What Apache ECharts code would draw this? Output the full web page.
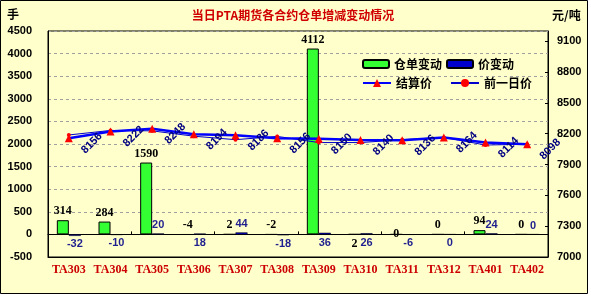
<!DOCTYPE html>
<html>
<head>
<meta charset="utf-8">
<script src="https://cdn.jsdelivr.net/npm/echarts@6/dist/echarts.min.js"></script>
<style>
html,body{margin:0;padding:0;background:#fff;}
#c{width:591px;height:297px;}
</style>
</head>
<body>
<div id="c"></div>
<script>
// ---- data ----
const categories = ['TA303','TA304','TA305','TA306','TA307','TA308','TA309','TA310','TA311','TA312','TA401','TA402'];
const warrantChange = [314, 284, 1590, -4, 2, -2, 4112, 2, 0, 0, 94, 0];
const priceChange = [-32, -10, 20, 18, 44, -18, 36, 26, -6, 0, 24, 0];
const settlePrice = [8156, 8222, 8248, 8194, 8186, 8156, 8150, 8140, 8136, 8164, 8114, 8098];
const prevPrice = [8188, 8232, 8228, 8176, 8142, 8174, 8114, 8114, 8142, 8164, 8090, 8098];
const leftTicks = {min: -500, max: 4500, interval: 500};
const rightTicks = {min: 7000, max: 9200, interval: 300};

// ---- label placement (layout only) ----
const warrantLabelPos = ['top','top','top','top','top','top','top','bottom','inside','top','top','top'];
const priceLabelPos = ['bottom','bottom','top','bottom','top','bottom','bottom','bottom','bottom','bottom','top','top'];

const chart = echarts.init(document.getElementById('c'), null, {renderer: 'canvas'});
const plain = v => String(v);

const option = {
  backgroundColor: '#ffffff',
  animation: false,
  graphic: [
    {type: 'rect', z: -100, silent: true, shape: {x: 0.5, y: 0.5, width: 587, height: 293},
     style: {fill: '#FFFFCC', stroke: '#000', lineWidth: 1}},
    {type: 'text', x: 293, y: 15, silent: true,
     style: {text: '当日PTA期货各合约仓单增减变动情况', fill: '#D00000', font: 'bold 12px "Noto Sans CJK SC"', textAlign: 'center', textVerticalAlign: 'middle'}},
    {type: 'text', x: 7, y: 14, silent: true,
     style: {text: '手', fill: '#000', font: 'bold 12px "Noto Sans CJK SC"', textAlign: 'left', textVerticalAlign: 'middle'}},
    {type: 'text', x: 552, y: 15, silent: true,
     style: {text: '元/吨', fill: '#000', font: 'bold 12px "Noto Sans CJK SC"', textAlign: 'left', textVerticalAlign: 'middle'}}
  ],
  grid: {left: 48, right: 43, top: 31, bottom: 40, show: true, borderColor: '#000', borderWidth: 1, backgroundColor: 'transparent'},
  legend: [
    {data: ['仓单变动','价变动'], left: 362, top: 58, itemWidth: 26, itemHeight: 8, itemGap: 4, padding: 0,
     textStyle: {color: '#000', fontWeight: 'bold', fontSize: 12, fontFamily: 'Noto Sans CJK SC'}},
    {data: ['结算价','前一日价'], left: 362, top: 77, itemWidth: 28, itemHeight: 10, itemGap: 18, padding: 0,
     textStyle: {color: '#000', fontWeight: 'bold', fontSize: 12, fontFamily: 'Noto Sans CJK SC'}}
  ],
  xAxis: [
    {type: 'category', data: categories, position: 'bottom',
     axisLine: {onZero: false, lineStyle: {color: '#000', width: 1}},
     axisTick: {show: false},
     axisLabel: {color: '#CC0000', fontWeight: 'bold', fontSize: 12, fontFamily: 'Liberation Serif', margin: 7, interval: 0},
     splitLine: {show: false}},
    {type: 'category', data: categories, position: 'top',
     axisLine: {onZero: true, onZeroAxisIndex: 0, lineStyle: {color: '#000', width: 1}},
     axisTick: {show: true, inside: false, length: 3, lineStyle: {color: '#000'}},
     axisLabel: {show: false},
     splitLine: {show: false}}
  ],
  yAxis: [
    {type: 'value', position: 'left', min: leftTicks.min, max: leftTicks.max, interval: leftTicks.interval,
     axisLine: {show: true, lineStyle: {color: '#000'}},
     axisTick: {show: false},
     axisLabel: {color: '#000', fontWeight: 'bold', fontSize: 11, fontFamily: 'Liberation Sans', margin: 16, formatter: plain},
     splitLine: {show: true, lineStyle: {color: '#A0A0A0', type: [3, 3], width: 1}}},
    {type: 'value', position: 'right', min: rightTicks.min, max: rightTicks.max, interval: rightTicks.interval,
     axisLine: {show: true, lineStyle: {color: '#000'}},
     axisTick: {show: true, inside: true, length: 3, lineStyle: {color: '#000'}},
     axisLabel: {color: '#000', fontWeight: 'bold', fontSize: 11, fontFamily: 'Liberation Sans', margin: 9, showMaxLabel: false, formatter: plain},
     splitLine: {show: false}}
  ],
  series: [
    {name: '仓单变动', type: 'bar', xAxisIndex: 0, yAxisIndex: 0, barWidth: 12, barGap: '0%',
     itemStyle: {color: '#33FF33', borderColor: '#000', borderWidth: 1},
     data: warrantChange.map((v, i) => ({value: v, label: {position: warrantLabelPos[i]}})),
     label: {show: true, color: '#000', fontWeight: 'bold', fontSize: 12, fontFamily: 'Liberation Serif', distance: 3}},
    {name: '价变动', type: 'bar', xAxisIndex: 0, yAxisIndex: 0, barWidth: 12, barGap: '0%',
     itemStyle: {color: '#0000CC', borderColor: '#000', borderWidth: 0.5},
     data: priceChange.map((v, i) => ({value: v, label: {position: priceLabelPos[i]}})),
     label: {show: true, color: '#1F1F8F', fontWeight: 'bold', fontSize: 11, fontFamily: 'Liberation Sans', distance: 3}},
    {name: '结算价', type: 'line', xAxisIndex: 0, yAxisIndex: 1, data: settlePrice,
     symbol: 'triangle', symbolSize: 8, z: 4,
     lineStyle: {color: '#0000FF', width: 2.5},
     itemStyle: {color: '#FF0000'},
     label: {show: true, position: [27, 9], align: 'center', verticalAlign: 'middle', rotate: 45,
             color: '#000080', fontWeight: 'bold', fontSize: 11, fontFamily: 'Liberation Sans'}},
    {name: '前一日价', type: 'line', xAxisIndex: 0, yAxisIndex: 1, data: prevPrice,
     symbol: 'circle', symbolSize: 4, z: 3,
     lineStyle: {color: '#0000CC', width: 1},
     itemStyle: {color: '#FF0000'}}
  ]
};
chart.setOption(option);
</script>
</body>
</html>
